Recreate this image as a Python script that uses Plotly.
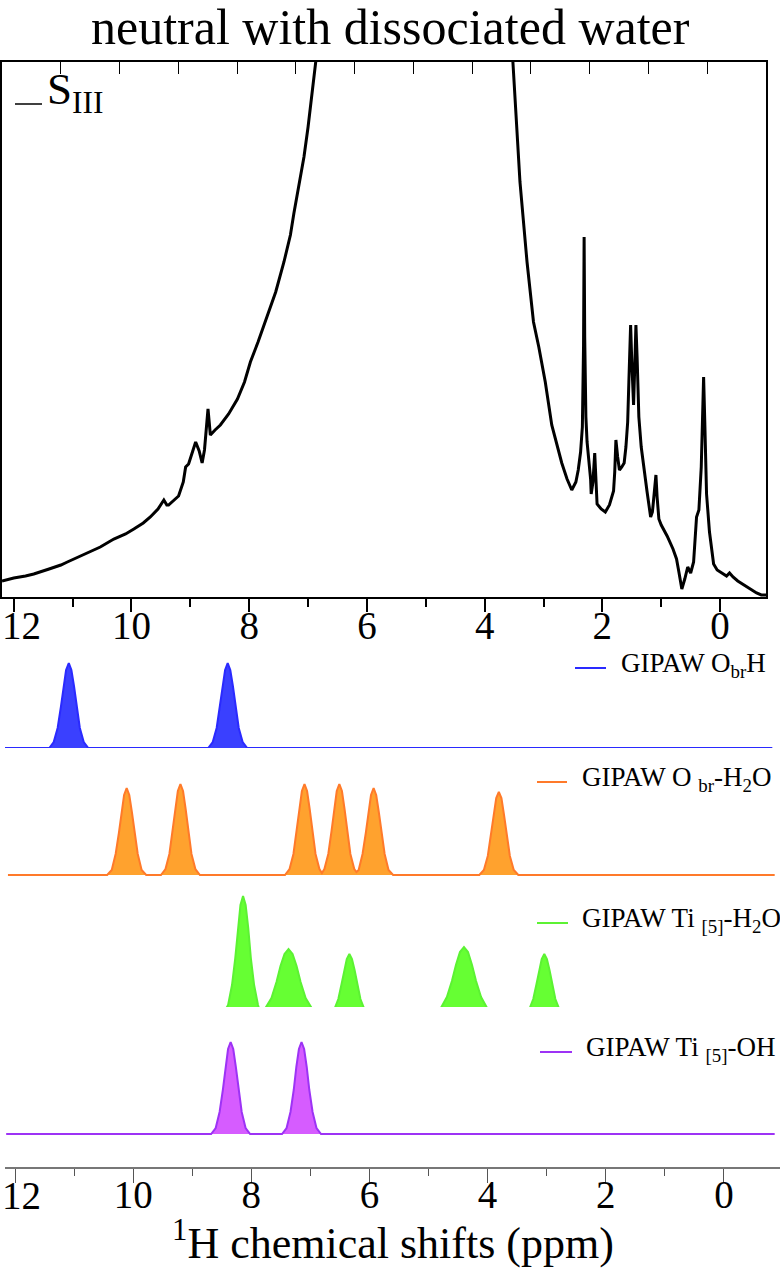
import plotly.graph_objects as go

W, H = 780, 1270
FONT = "Liberation Serif"

title_text = "neutral with dissociated water"
xaxis_title = "<sup>1</sup>H chemical shifts (ppm)"
exp_label = "S<sub>III</sub>"
edge_tick_label = "12"          # drawn flush with the page edge, as in the reference
tick_label_alias = {"12": ""}

# Experimental 1H spectrum (ppm, intensity in arbitrary units)
exp_ppm = [12.20, 12.0, 11.8, 11.66, 11.4, 11.2, 11.09, 10.9, 10.7, 10.53, 10.3, 10.1, 9.96, 9.8,
           9.68, 9.55, 9.45, 9.40, 9.37, 9.30, 9.20, 9.12, 9.08, 9.03, 8.98, 8.91, 8.85, 8.80,
           8.76, 8.70, 8.68, 8.66, 8.58, 8.49, 8.35, 8.20, 8.08, 7.98, 7.85, 7.70, 7.55, 7.41,
           7.30, 7.24, 7.15, 7.07, 7.00, 6.96, 6.88, 6.80, 6.60, 6.30, 5.90, 5.50, 5.10, 4.70,
           4.30, 3.95, 3.75, 3.60, 3.52, 3.45, 3.40, 3.28, 3.17, 3.08, 2.97, 2.86, 2.69, 2.60,
           2.52, 2.45, 2.41, 2.37, 2.34, 2.32, 2.31, 2.30, 2.28, 2.26, 2.22, 2.20, 2.19, 2.16,
           2.13, 2.11, 2.09, 2.02, 1.95, 1.88, 1.81, 1.79, 1.77, 1.74, 1.71, 1.67, 1.63, 1.60,
           1.57, 1.55, 1.52, 1.50, 1.47, 1.45, 1.43, 1.41, 1.38, 1.34, 1.30, 1.24, 1.18, 1.15,
           1.13, 1.09, 1.07, 1.04, 1.00, 0.90, 0.80, 0.74, 0.70, 0.65, 0.60, 0.55, 0.50, 0.45,
           0.40, 0.36, 0.32, 0.30, 0.28, 0.26, 0.23, 0.18, 0.14, 0.11, 0.05, -0.05, -0.11, -0.16,
           -0.22, -0.30, -0.40, -0.50, -0.62, -0.70, -0.78]
exp_int = [16, 19, 21, 23, 28, 32, 35, 40, 45, 50, 58, 63, 68, 74,
           80, 88, 97, 92, 92, 96, 101, 115, 130, 133, 142, 155, 146, 134,
           147, 188, 175, 162, 167, 172, 183, 198, 215, 235, 255, 280, 305, 335,
           362, 384, 412, 440, 470, 492, 535, 575, 680, 820, 950, 1000, 960, 880,
           780, 680, 600, 560, 535, 467, 415, 335, 275, 250, 215, 172, 134, 118,
           107, 115, 127, 145, 170, 250, 360, 260, 180, 155, 130, 118, 103, 115,
           144, 120, 93, 88, 85, 92, 106, 125, 157, 140, 127, 130, 134, 150,
           175, 215, 272, 235, 192, 230, 272, 240, 180, 150, 130, 105, 80, 85,
           97, 122, 100, 78, 72, 61, 48, 38, 25, 8, 18, 30, 24, 35,
           80, 87, 130, 180, 220, 175, 103, 65, 45, 33, 27, 23, 21, 24,
           20, 16, 12, 8, 4, 2, 2]

# GIPAW computed spectra (ppm, intensity)
blue_ppm = [12.20, 11.42, 11.345, 11.279, 11.224, 11.18, 11.136, 11.09, 11.046, 11.002, 10.958, 10.903,
            10.837, 10.76, 8.73, 8.653, 8.587, 8.532, 8.488, 8.444, 8.40, 8.356, 8.312, 8.268, 8.213,
            8.147, 8.07, -0.82]
blue_int = [0, 0, 6, 20, 41, 62, 78, 85, 78, 62, 41, 20, 6, 0, 0, 6, 20, 41, 62, 78, 85, 78, 62, 41, 20,
            6, 0, 0]

orange_ppm = [12.12,
              10.44, 10.363, 10.297, 10.242, 10.198, 10.154, 10.11, 10.066, 10.022, 9.978, 9.923, 9.857, 9.78,
              9.53, 9.453, 9.387, 9.332, 9.288, 9.244, 9.20, 9.156, 9.112, 9.068, 9.013, 8.947, 8.87,
              7.43, 7.353, 7.287, 7.232, 7.188, 7.144, 7.10, 7.056, 7.012, 6.968, 6.913, 6.847, 6.805,
              6.763, 6.697, 6.642, 6.598, 6.554, 6.51, 6.466, 6.422, 6.378, 6.323, 6.257, 6.22,
              6.183, 6.117, 6.062, 6.018, 5.974, 5.93, 5.886, 5.842, 5.798, 5.743, 5.677, 5.60,
              4.14, 4.063, 3.997, 3.942, 3.898, 3.854, 3.81, 3.766, 3.722, 3.678, 3.623, 3.557, 3.48,
              -0.86]
orange_int = [0,
              0, 5, 21, 42, 63, 80, 87, 80, 63, 42, 21, 5, 0,
              0, 6, 21, 44, 66, 84, 91, 84, 66, 44, 21, 6, 0,
              0, 6, 21, 44, 66, 84, 91, 84, 66, 44, 21, 6, 2,
              6, 21, 44, 66, 84, 91, 84, 66, 44, 21, 6, 3,
              5, 21, 42, 63, 80, 87, 80, 63, 42, 21, 5, 0,
              0, 5, 19, 40, 60, 77, 83, 77, 60, 40, 19, 5, 0,
              0]

green_ppm = [12.20,
             8.47, 8.393, 8.327, 8.272, 8.228, 8.184, 8.14, 8.096, 8.052, 8.008, 7.953, 7.887,
             7.85,
             7.761, 7.659, 7.574, 7.506, 7.438, 7.37, 7.302, 7.234, 7.166, 7.081, 6.979, 6.86,
             6.67, 6.593, 6.527, 6.472, 6.428, 6.384, 6.34, 6.296, 6.252, 6.208, 6.153, 6.087, 6.01,
             4.91, 4.791, 4.689, 4.604, 4.536, 4.468, 4.40, 4.332, 4.264, 4.196, 4.111, 4.009, 3.89,
             3.37, 3.293, 3.227, 3.172, 3.128, 3.084, 3.04, 2.996, 2.952, 2.908, 2.853, 2.787, 2.71,
             -0.78]
green_int = [0,
             0, 8, 28, 55, 85, 108, 117, 108, 85, 55, 28, 8,
             1,
             5, 15, 31, 47, 59, 64, 59, 47, 31, 15, 5, 0,
             0, 4, 14, 29, 43, 54, 59, 54, 43, 29, 14, 4, 0,
             0, 5, 16, 32, 48, 61, 66, 61, 48, 32, 16, 5, 0,
             0, 4, 14, 29, 43, 54, 59, 54, 43, 29, 14, 4, 0,
             0]

purple_ppm = [12.15,
              8.68, 8.603, 8.537, 8.482, 8.438, 8.394, 8.35, 8.306, 8.262, 8.218, 8.163, 8.097, 8.02,
              7.48, 7.403, 7.337, 7.282, 7.238, 7.194, 7.15, 7.106, 7.062, 7.018, 6.963, 6.897, 6.82,
              -0.86]
purple_int = [0,
              0, 6, 22, 44, 67, 85, 92, 85, 67, 44, 22, 6, 0,
              0, 6, 22, 44, 67, 85, 92, 85, 67, 44, 22, 6, 0,
              0]

gipaw_names = ["GIPAW O<sub>br</sub>H",
               "GIPAW O <sub>br</sub>-H<sub>2</sub>O",
               "GIPAW Ti <sub>[5]</sub>-H<sub>2</sub>O",
               "GIPAW Ti <sub>[5]</sub>-OH"]
gipaw_line_colors = ["#2a2aff", "#ff7a2a", "#5cf233", "#9d33f5"]
gipaw_fill_colors = ["#3a40ff", "#ffa22e", "#66ff33", "#d65cff"]
gipaw_data = [(blue_ppm, blue_int), (orange_ppm, orange_int),
              (green_ppm, green_int), (purple_ppm, purple_int)]


# ---------------- layout helpers (pixel -> paper) ----------------
def px_x(x):
    return x / W


def px_y(y):
    return 1 - y / H


fig = go.Figure()

# experimental spectrum
fig.add_trace(go.Scatter(x=exp_ppm, y=exp_int, mode="lines",
                         line=dict(color="black", width=3),
                         xaxis="x", yaxis="y", showlegend=False, hoverinfo="skip"))
# dummy trace for top tick axis
fig.add_trace(go.Scatter(x=[None], y=[None], xaxis="x3", yaxis="y", showlegend=False,
                         hoverinfo="skip"))

baselines = [748, 875, 1013, 1134]
yaxes = ["y2", "y3", "y4", "y5"]
for (xs, ys), lc, fc, ya in zip(gipaw_data, gipaw_line_colors, gipaw_fill_colors, yaxes):
    fig.add_trace(go.Scatter(x=xs, y=ys, mode="lines", fill="tozeroy", fillcolor=fc,
                             line=dict(color=lc, width=2),
                             xaxis="x2", yaxis=ya, showlegend=False, hoverinfo="skip"))

TICKFONT = dict(family=FONT, size=39, color="black")

layout = dict(
    width=W, height=H,
    margin=dict(l=0, r=0, t=0, b=0, autoexpand=False),
    paper_bgcolor="white", plot_bgcolor="white",
    font=dict(family=FONT, color="black"),
    showlegend=False,
    xaxis=dict(domain=[px_x(2), px_x(766)], range=[12.2, -0.78], anchor="y", automargin=False,
               showline=True, linecolor="black", linewidth=1.5, mirror=False,
               ticks="outside", tick0=0, dtick=2, ticklen=13, tickwidth=1.5, tickcolor="black",
               minor=dict(ticks="outside", tick0=0, dtick=1, ticklen=8, tickwidth=1.5,
                          tickcolor="black"),
               tickfont=TICKFONT, ticklabeloverflow="allow", ticklabelstandoff=-20,
               labelalias=tick_label_alias,
               showgrid=False, zeroline=False),
    xaxis3=dict(overlaying="x", side="top", anchor="y", range=[12, -1], automargin=False,
                showline=True, linecolor="black", linewidth=1.5,
                ticks="inside", tick0=0, dtick=1, ticklen=12, tickwidth=1.2, tickcolor="black",
                showticklabels=False, showgrid=False, zeroline=False),
    yaxis=dict(domain=[px_y(597), px_y(62)], range=[0, 535], anchor="x", automargin=False,
               showline=True, mirror=True, linecolor="black", linewidth=1.5,
               ticks="", showticklabels=False, showgrid=False, zeroline=False),
    xaxis2=dict(domain=[px_x(5), 1.0], range=[12.17, -0.95], anchor="free", automargin=False,
                position=px_y(1168),
                showline=True, linecolor="#777777", linewidth=1.5,
                ticks="outside", tick0=0, dtick=2, ticklen=14, tickwidth=1.2, tickcolor="#555555",
                minor=dict(ticks="outside", tick0=0, dtick=1, ticklen=7, tickwidth=1.2,
                           tickcolor="#555555"),
                tickfont=TICKFONT, ticklabeloverflow="allow", ticklabelstandoff=-22,
                labelalias=tick_label_alias,
                showgrid=False, zeroline=False),
)
for ya, b in zip(yaxes, baselines):
    layout[ya.replace("y", "yaxis")] = dict(domain=[px_y(b + 3), px_y(b - 127)], range=[-3, 127],
                                          anchor="x2", visible=False, showgrid=False,
                                          zeroline=False, automargin=False)

annotations = [
    dict(text=title_text, x=0.5, y=px_y(27), xref="paper", yref="paper",
         xanchor="center", yanchor="middle", showarrow=False,
         font=dict(family=FONT, size=50, color="black")),
    dict(text=xaxis_title, x=px_x(393), y=px_y(1240), xref="paper", yref="paper",
         xanchor="center", yanchor="middle", showarrow=False,
         font=dict(family=FONT, size=44, color="black")),
    dict(text=exp_label, x=px_x(45), y=px_y(92), xref="paper", yref="paper",
         xanchor="left", yanchor="middle", showarrow=False,
         font=dict(family=FONT, size=45, color="black")),
]
# left-most tick labels of both axes
for yc in (626, 1195):
    annotations.append(dict(text=edge_tick_label, x=px_x(0.5), y=px_y(yc), xref="paper",
                            yref="paper", xanchor="left", yanchor="middle", showarrow=False,
                            borderpad=0, font=TICKFONT))

shapes = [dict(type="line", xref="paper", yref="paper", x0=px_x(15), x1=px_x(42),
               y0=px_y(104), y1=px_y(104), line=dict(color="black", width=1.5))]

legend_lines = [(575, 606, 668), (537, 567, 782), (537, 568, 923), (540, 572, 1052)]
legend_text_x = [619, 580, 580, 584]
for name, lc, (x0, x1, yy), tx in zip(gipaw_names, gipaw_line_colors, legend_lines, legend_text_x):
    shapes.append(dict(type="line", xref="paper", yref="paper", x0=px_x(x0), x1=px_x(x1),
                       y0=px_y(yy), y1=px_y(yy), line=dict(color=lc, width=2)))
    annotations.append(dict(text=name, x=px_x(tx), y=px_y(yy - 3), xref="paper", yref="paper",
                            xanchor="left", yanchor="middle", showarrow=False,
                            font=dict(family=FONT, size=27, color="black")))

layout["annotations"] = annotations
layout["shapes"] = shapes
fig.update_layout(**layout)

fig.write_html("out.html")
